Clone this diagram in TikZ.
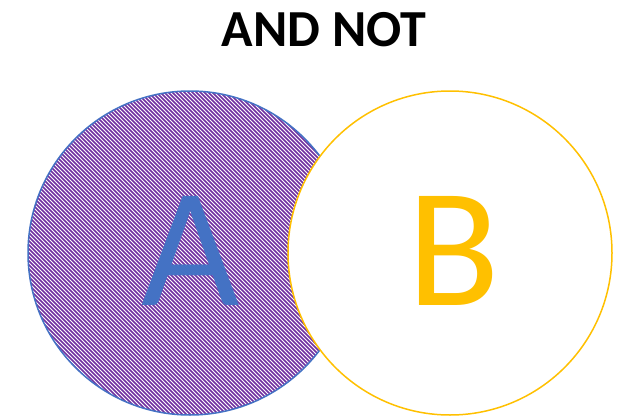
\documentclass[tikz,border=0pt]{standalone}
\usepackage{fontspec}
\setmainfont{Carlito}
\definecolor{aBlue}{HTML}{4472C4}
\definecolor{bGold}{HTML}{FFC000}
\definecolor{hPurple}{HTML}{7030A0}
\tikzset{
  setA/.style={draw=aBlue, line width=1.5pt},
  hatchline/.style={draw=hPurple, line width=1.5pt},
  setB/.style={draw=bGold, line width=1.5pt, fill=white},
  biglabel/.style={font=\fontsize{170}{170}\selectfont, inner sep=0pt},
  titlestyle/.style={font=\fontsize{52}{52}\selectfont\bfseries, inner sep=0pt}
}
\begin{document}
\begin{tikzpicture}[x=1pt,y=1pt]
\useasboundingbox (0,0) rectangle (618,416);
\coordinate (ca) at (190,163);
\coordinate (cb) at (450,163);
\begin{scope}
  \clip (ca) circle (162);
  \foreach \c in {100,104,...,620} {
    \draw[hatchline] (\c-400,400) -- (\c,0);
  }
\end{scope}
\draw[setA] (ca) circle (162);
\draw[setB] (cb) circle (162);
\node[biglabel, text=aBlue, anchor=base] (la) at (191,111) {A};
\node[biglabel, text=bGold, anchor=base] (lb) at (454,111) {B};
\node[titlestyle, anchor=base] (title) at (324,369) {AND NOT};
\end{tikzpicture}
\end{document}
